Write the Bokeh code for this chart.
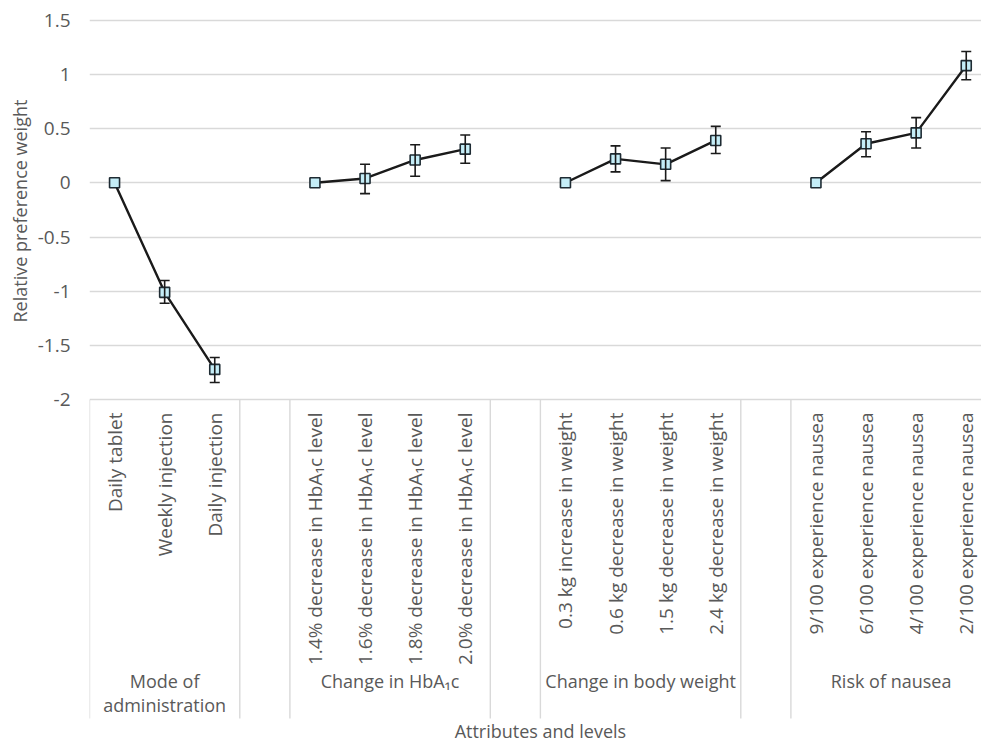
import math
from bokeh.plotting import figure
from bokeh.models import (ColumnDataSource, Whisker, TeeHead, FixedTicker, Range1d, Title)
from bokeh.core.properties import value
from bokeh.embed import file_html
from bokeh.resources import INLINE

# ---------------- data ----------------
groups = ["Mode of\nadministration", "Change in HbA\u2081c", "Change in body weight", "Risk of nausea"]

levels_mode = ["Daily tablet", "Weekly injection", "Daily injection"]
levels_hba1c = ["1.4% decrease in HbA\u2081c level", "1.6% decrease in HbA\u2081c level",
                "1.8% decrease in HbA\u2081c level", "2.0% decrease in HbA\u2081c level"]
levels_weight = ["0.3 kg increase in weight", "0.6 kg decrease in weight",
                 "1.5 kg decrease in weight", "2.4 kg decrease in weight"]
levels_nausea = ["9/100 experience nausea", "6/100 experience nausea",
                 "4/100 experience nausea", "2/100 experience nausea"]

weight_mode = [0.0, -1.01, -1.72]
lower_mode = [None, -1.11, -1.84]
upper_mode = [None, -0.90, -1.61]

weight_hba1c = [0.0, 0.04, 0.21, 0.31]
lower_hba1c = [None, -0.10, 0.06, 0.18]
upper_hba1c = [None, 0.17, 0.35, 0.44]

weight_weight = [0.0, 0.22, 0.17, 0.39]
lower_weight = [None, 0.10, 0.02, 0.27]
upper_weight = [None, 0.34, 0.32, 0.52]

weight_nausea = [0.0, 0.36, 0.46, 1.08]
lower_nausea = [None, 0.24, 0.32, 0.95]
upper_nausea = [None, 0.47, 0.60, 1.21]

y_ticks = [-2, -1.5, -1, -0.5, 0, 0.5, 1, 1.5]
y_tick_labels = ["-2", "-1.5", "-1", "-0.5", "0", "0.5", "1", "1.5"]

y_title = "Relative preference weight"
x_title = "Attributes and levels"

all_levels = [levels_mode, levels_hba1c, levels_weight, levels_nausea]
all_weights = [weight_mode, weight_hba1c, weight_weight, weight_nausea]
all_lower = [lower_mode, lower_hba1c, lower_weight, lower_nausea]
all_upper = [upper_mode, upper_hba1c, upper_weight, upper_nausea]

# ---------------- layout geometry (page pixels) ----------------
W, H = 981, 743
LEFT = 89          # frame left
TOP = 18           # frame top
SLOT = 50.1        # px per category slot
Y_TOP_PX, Y_BOT_PX = 19.5, 399.3   # page y of 1.5 and -2
UPP = 3.5 / (Y_BOT_PX - Y_TOP_PX)


def py(page_y):
    return 1.5 - (page_y - Y_TOP_PX) * UPP


frame_w = W - LEFT
x_end = frame_w / SLOT
y_start = py(H)
y_end = py(TOP)

TEXT = "#595959"
FONT = value("Open Sans")

p = figure(width=W, height=H, output_backend="svg", toolbar_location=None,
           x_range=Range1d(0, x_end), y_range=Range1d(y_start, y_end),
           min_border_left=LEFT, min_border_right=0, min_border_top=TOP, min_border_bottom=0)
p.outline_line_color = None
p.xaxis.visible = False
p.xgrid.visible = False

yax = p.yaxis[0]
yax.ticker = FixedTicker(ticks=y_ticks)
yax.major_label_overrides = {t: l for t, l in zip(y_ticks, y_tick_labels)}
yax.axis_line_color = None
yax.major_tick_line_color = None
yax.minor_tick_line_color = None
yax.major_tick_out = 0
yax.major_tick_in = 0
yax.major_label_standoff = 19
yax.major_label_text_font = "Open Sans"
yax.major_label_text_font_size = "19px"
yax.major_label_text_color = TEXT
p.ygrid.ticker = FixedTicker(ticks=y_ticks)
p.ygrid.grid_line_color = "#d9d9d9"
p.ygrid.grid_line_width = 1.4

# y axis title (placed on the left, starting at the bottom of the value area)
p.add_layout(Title(text=y_title, align="left", offset=H - 322, standoff=4,
                   text_font="Open Sans", text_font_size="18px", text_font_style="normal",
                   text_color=TEXT, vertical_align="middle"), "left")

# ---------------- category positions ----------------
starts = []
pos = 0
for lv in all_levels:
    starts.append(pos)
    pos += len(lv) + 1

bounds = []
for s, lv in zip(starts, all_levels):
    bounds += [s, s + len(lv)]

p.segment(x0=bounds, y0=[py(Y_BOT_PX)] * len(bounds), x1=bounds, y1=[py(718)] * len(bounds),
          line_color="#d9d9d9", line_width=1.4)

lvl_x, lvl_t = [], []
for s, lv in zip(starts, all_levels):
    for i, t in enumerate(lv):
        lvl_x.append(s + i + 0.5)
        lvl_t.append(t)
p.text(x=lvl_x, y=[py(412)] * len(lvl_x), text=lvl_t, angle=math.pi / 2,
       text_align="right", text_baseline="middle", text_font=FONT,
       text_font_size="19px", text_color=TEXT)

grp_x = [s + len(lv) / 2 for s, lv in zip(starts, all_levels)]
p.text(x=grp_x, y=[py(668)] * len(grp_x), text=groups, text_align="center",
       text_baseline="top", text_font=FONT, text_font_size="18px",
       text_color=TEXT, text_line_height=1.0)

p.text(x=[9], y=[py(730)], text=[x_title], text_align="center", text_baseline="middle",
       text_font=FONT, text_font_size="18px", text_color=TEXT)

# ---------------- series ----------------
wx, wl, wu = [], [], []
for s, lv, w, lo, up in zip(starts, all_levels, all_weights, all_lower, all_upper):
    xs = [s + i + 0.5 for i in range(len(lv))]
    for x, a, b in zip(xs, lo, up):
        if a is not None:
            wx.append(x); wl.append(a); wu.append(b)

wsrc = ColumnDataSource(dict(x=wx, lower=wl, upper=wu))
p.add_layout(Whisker(base="x", lower="lower", upper="upper", source=wsrc, dimension="height",
                     line_color="#1a1a1a", line_width=1.6, level="glyph",
                     upper_head=TeeHead(size=10, line_color="#1a1a1a", line_width=1.6),
                     lower_head=TeeHead(size=10, line_color="#1a1a1a", line_width=1.6)))

for s, lv, w in zip(starts, all_levels, all_weights):
    xs = [s + i + 0.5 for i in range(len(lv))]
    p.line(xs, w, line_color="#1a1a1a", line_width=2.4)
    p.scatter(xs, w, marker="square", size=10, fill_color="#c4edf7",
              line_color="#1e2b33", line_width=1.6)

open("out.html", "w").write(file_html(p, INLINE))
